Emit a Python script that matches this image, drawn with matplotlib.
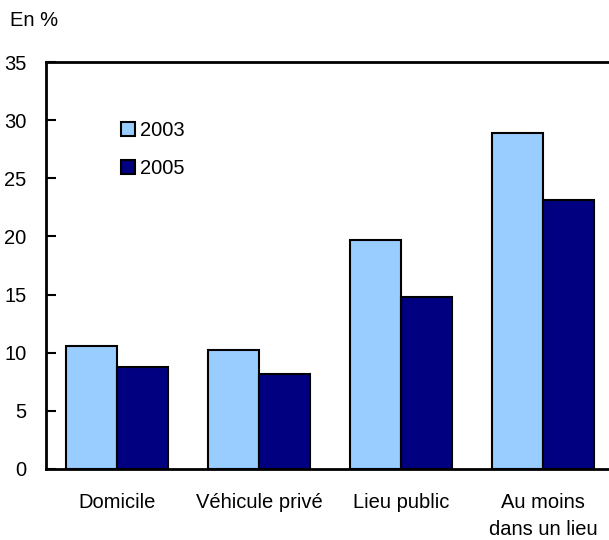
import matplotlib
matplotlib.use("Agg")
import matplotlib.pyplot as plt
import numpy as np
from matplotlib.patches import Patch

categories = ["Domicile", "Véhicule privé", "Lieu public", "Au moins\ndans un lieu"]
years = ["2003", "2005"]
values_2003 = [10.6, 10.2, 19.7, 28.9]
values_2005 = [8.8, 8.2, 14.8, 23.1]
yticks = [0, 5, 10, 15, 20, 25, 30, 35]

plt.rcParams['font.family'] = ['Liberation Sans', 'DejaVu Sans']
fs = 14.5

fig = plt.figure(figsize=(6.09, 5.40), dpi=100)
ax = fig.add_axes([46/609, 1-469/540, (614-46)/609, (469-62)/540])

x = np.arange(len(categories))
w = 0.36
c1 = '#99ccff'
c2 = '#000080'
ax.bar(x - w/2, values_2003, width=w, color=c1, edgecolor='black', linewidth=1.5, label=years[0])
ax.bar(x + w/2, values_2005, width=w, color=c2, edgecolor='black', linewidth=1.5, label=years[1])

ax.set_xlim(-0.5, 3.5)
ax.set_ylim(0, 35)
ax.set_yticks(yticks)
ax.set_yticklabels([str(t) for t in yticks], fontsize=fs)
ax.set_xticks(x)
ax.set_xticklabels(categories, fontsize=fs, linespacing=1.55)
ax.tick_params(axis='x', length=0, pad=17)
ax.tick_params(axis='y', direction='in', length=7, width=1.5, pad=14)
for s in ['top', 'left', 'bottom']:
    ax.spines[s].set_linewidth(2)
ax.spines['right'].set_visible(False)

handles = [Patch(facecolor=c1, edgecolor='black', linewidth=1.5),
           Patch(facecolor=c2, edgecolor='black', linewidth=1.5)]
ax.legend(handles, years, loc='upper left', bbox_to_anchor=(0.10, 0.90), frameon=False,
          fontsize=fs, handlelength=0.7, handleheight=0.7, handletextpad=0.25, labelspacing=0.95)

fig.text(10/609, 1-20/540, "En %", fontsize=fs, va='center', ha='left')

fig.savefig("out.png", dpi=100)
